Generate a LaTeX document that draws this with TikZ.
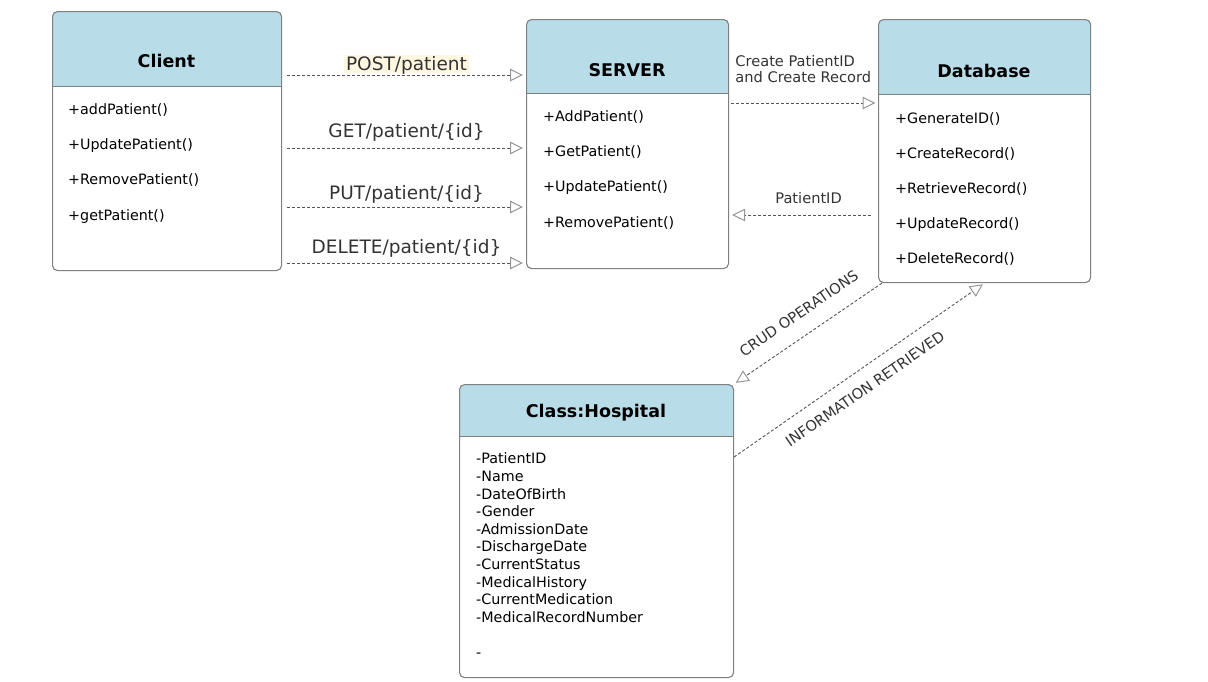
\documentclass[tikz,border=0pt]{standalone}
\usepackage{fontspec}
\setmainfont{DejaVu Sans}
\usetikzlibrary{arrows.meta}
\definecolor{headblue}{RGB}{185,221,232}
\definecolor{boxgray}{RGB}{128,128,128}
\definecolor{linegray}{RGB}{85,85,85}
\definecolor{tipgray}{RGB}{150,150,150}
\definecolor{labelgray}{RGB}{51,51,51}
\definecolor{glow}{RGB}{255,247,224}
\tikzset{
  classbox/.style={draw=boxgray, line width=1.1pt, rounded corners=5pt, anchor=north west, inner sep=0pt,
    path picture={
      \fill[headblue, sharp corners] (path picture bounding box.north west) rectangle ([yshift=-#1]path picture bounding box.north east);
      \draw[boxgray, line width=1.2pt, sharp corners] ([yshift=-#1]path picture bounding box.north west) -- ([yshift=-#1]path picture bounding box.north east);
    }},
  title/.style={font=\bfseries\fontsize{17.5}{20}\selectfont, inner sep=0pt, text height=12.6pt, text depth=0pt},
  member/.style={anchor=west, inner sep=0pt, font=\fontsize{14.3}{16}\selectfont, text height=10.3pt, text depth=0pt},
  elabel/.style={font=\fontsize{18.5}{21}\selectfont, text=labelgray, inner sep=2pt, text height=13.4pt, text depth=0pt},
  note/.style={font=\fontsize{14.6}{16.6}\selectfont, text=labelgray, inner sep=0pt, text height=10.5pt, text depth=0pt},
  flow/.style={draw=linegray, line width=0.9pt, dash pattern=on 3pt off 2pt,
    -{Triangle[open, length=13pt, width=12.5pt, color=tipgray, line width=1pt]}}
}
\begin{document}
\begin{tikzpicture}[x=1pt,y=-1pt]
\useasboundingbox (0,0) rectangle (1208,681);

\node[classbox=75pt, minimum width=229pt, minimum height=259pt] (client) at (52,11) {};
\node[classbox=74pt, minimum width=202pt, minimum height=249pt] (server) at (526,19) {};
\node[classbox=75pt, minimum width=212pt, minimum height=263pt] (db) at (878,19) {};
\node[classbox=52pt, minimum width=274pt, minimum height=293pt] (hosp) at (459,384) {};

\node[title] (clientT) at (166.5,61) {Client};
\node[title] (serverT) at (627,70) {SERVER};
\node[title] (dbT) at (984,71) {Database};
\node[title] (hospT) at (596,411) {Class:Hospital};

\foreach \m [count=\i from 0] in {+addPatient(),+UpdatePatient(),+RemovePatient(),+getPatient()}
  \node[member] (cm\i) at (68,{109+35.3*\i}) {\m};
\foreach \m [count=\i from 0] in {+AddPatient(),+GetPatient(),+UpdatePatient(),+RemovePatient()}
  \node[member] (sm\i) at (543,{116+35.3*\i}) {\m};
\foreach \m [count=\i from 0] in {+GenerateID(),+CreateRecord(),+RetrieveRecord(),+UpdateRecord(),+DeleteRecord()}
  \node[member] (dm\i) at (895,{118+35*\i}) {\m};
\foreach \m [count=\i from 0] in {-PatientID,-Name,-DateOfBirth,-Gender,-AdmissionDate,-DischargeDate,-CurrentStatus,-MedicalHistory,-CurrentMedication,-MedicalRecordNumber}
  \node[member] (ha\i) at (476,{458.7+17.6*\i}) {\m};
\node[member] (haEnd) at (476,652) {-};

\coordinate (postA) at (287,75);
\coordinate (getA) at (287,148);
\coordinate (putA) at (287,207);
\coordinate (delA) at (287,263);
\coordinate (crA) at (731,103);
\coordinate (idA) at (871,215);

\draw[flow, shorten >=3pt] (postA) -- (postA -| server.west) node[elabel, midway, yshift=11pt, fill=glow] (postL) {POST/patient};
\draw[flow, shorten >=3pt] (getA) -- (getA -| server.west) node[elabel, midway, yshift=17pt] (getL) {GET/patient/\{id\}};
\draw[flow, shorten >=3pt] (putA) -- (putA -| server.west) node[elabel, midway, yshift=14pt] (putL) {PUT/patient/\{id\}};
\draw[flow, shorten >=3pt] (delA) -- (delA -| server.west) node[elabel, midway, yshift=16pt] (delL) {DELETE/patient/\{id\}};

\draw[flow, shorten >=2.5pt] (crA) -- (crA -| db.west) node[pos=0, anchor=south west, align=left, inner sep=0pt, xshift=4pt, yshift=19.6pt, text=labelgray, font=\fontsize{14.6}{16.6}\selectfont] (crL) {Create PatientID\\and Create Record};
\draw[flow, shorten >=3pt] (idA) -- (idA -| server.east) node[note, pos=.44, yshift=17pt] (idL) {PatientID};

\draw[flow, shorten >=2pt] ([xshift=4pt]db.south west) -- (hosp.north east) node[note, sloped, pos=.48, above=16pt] (crudL) {CRUD OPERATIONS};
\draw[flow, shorten >=2pt] ([yshift=-73pt]hosp.north east) -- (db.south) node[note, sloped, pos=.48, below=13pt] (infoL) {INFORMATION RETRIEVED};
\end{tikzpicture}
\end{document}
